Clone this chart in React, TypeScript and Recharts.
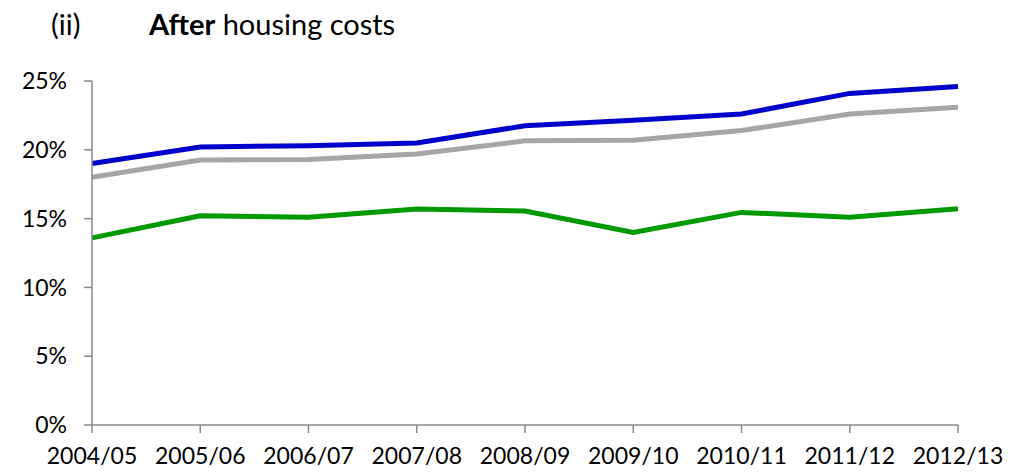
import { CartesianGrid, Line, LineChart, XAxis, YAxis } from 'recharts';

const years = ['2004/05', '2005/06', '2006/07', '2007/08', '2008/09', '2009/10', '2010/11', '2011/12', '2012/13'];
const blueSeries = [19.0, 20.2, 20.3, 20.5, 21.75, 22.15, 22.6, 24.1, 24.6];
const greySeries = [18.0, 19.25, 19.3, 19.7, 20.65, 20.7, 21.4, 22.6, 23.1];
const greenSeries = [13.6, 15.2, 15.1, 15.7, 15.55, 14.0, 15.45, 15.1, 15.72];
const yTicks = [0, 5, 10, 15, 20, 25];

const data = years.map((year, i) => ({
   year,
   blue: blueSeries[i],
   grey: greySeries[i],
   green: greenSeries[i],
}));

const font = 'Lato, "Open Sans", sans-serif';
const axisColour = '#898989';

const App = () => {
   return (
      <div style={{ position: 'absolute', left: 0, top: 0, width: 1027, height: 473, background: '#fff', fontFamily: font }}>
         <div style={{ position: 'absolute', left: 51, top: 6, fontSize: 29, lineHeight: '36px', color: '#000', whiteSpace: 'pre' }}>
            <span>(ii)</span>
            <span style={{ position: 'absolute', left: 98 }}>
               <b>After</b> housing costs
            </span>
         </div>
         <LineChart width={1027} height={473} data={data} margin={{ top: 81, right: 69, left: 0, bottom: 0 }}>
            <CartesianGrid horizontal={false} vertical={false} />
            <XAxis
               dataKey="year"
               height={48}
               interval={0}
               tickSize={8}
               tickMargin={15}
               stroke={axisColour}
               strokeWidth={1.5}
               tick={{ fontSize: 23, fill: '#000', fontFamily: font }}
            />
            <YAxis
               width={92}
               domain={[0, 25]}
               ticks={yTicks}
               tickFormatter={(v) => `${v}%`}
               tickSize={8}
               tickMargin={17}
               stroke={axisColour}
               strokeWidth={1.5}
               tick={{ fontSize: 23, fill: '#000', fontFamily: font }}
            />
            <Line dataKey="grey" stroke="#a6a6a6" strokeWidth={5} dot={false} isAnimationActive={false} />
            <Line dataKey="green" stroke="#009900" strokeWidth={5} dot={false} isAnimationActive={false} />
            <Line dataKey="blue" stroke="#0000cc" strokeWidth={5} dot={false} isAnimationActive={false} />
         </LineChart>
      </div>
   );
};

export default App;
